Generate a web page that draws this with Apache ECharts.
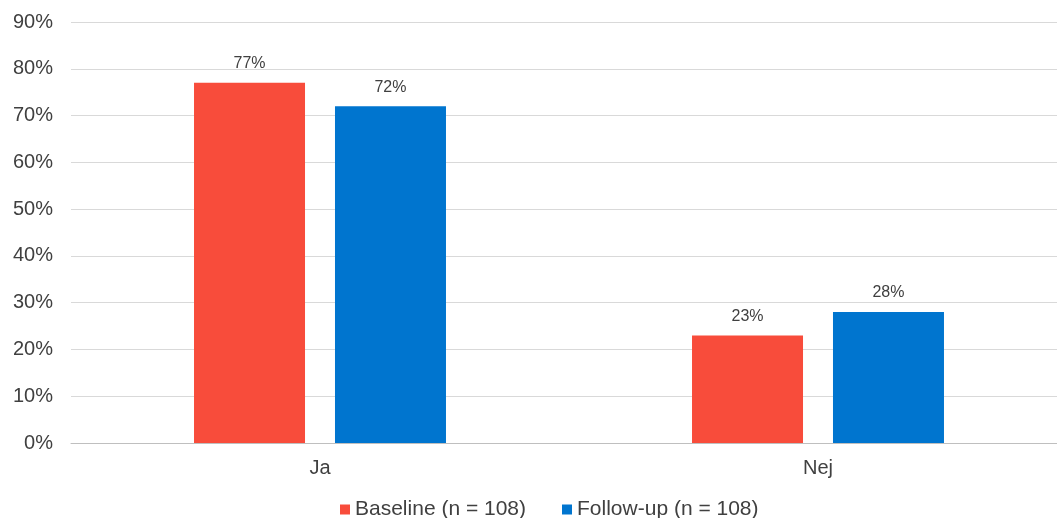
<!DOCTYPE html>
<html><head><meta charset="utf-8">
<script src="https://cdn.jsdelivr.net/npm/echarts@6/dist/echarts.min.js"></script>
<style>html,body{margin:0;padding:0;background:#fff;overflow:hidden;width:1057px;height:518px}#c{width:1067px;height:518px}</style>
</head><body><div id="c"></div>
<script>
const categories = ['Ja', 'Nej'];
const baseline = [77, 23];
const followup = [72, 28];
const seriesNames = ['Baseline (n = 108)', 'Follow-up (n = 108)'];
const yTicks = [0, 10, 20, 30, 40, 50, 60, 70, 80, 90];

const chart = echarts.init(document.getElementById('c'));
const font = 'Liberation Sans, Arial, sans-serif';
const lbl = {show: true, position: 'top', distance: 11, formatter: p => p.value + '%', color: '#404040', fontSize: 16, fontFamily: font};
chart.setOption({
  animation: false,
  grid: {left: 71, right: 0, top: 22, bottom: 75, containLabel: false},
  legend: {
    data: seriesNames, left: 335, top: 494,
    itemWidth: 10, itemHeight: 10, itemGap: 36, icon: 'rect',
    textStyle: {fontSize: 21, color: '#404040', fontFamily: font}
  },
  xAxis: {
    type: 'category', data: categories,
    axisLine: {lineStyle: {color: '#bfbfbf', width: 1}},
    axisTick: {show: false},
    axisLabel: {fontSize: 20, color: '#404040', margin: 15, fontFamily: font}
  },
  yAxis: {
    type: 'value', min: yTicks[0], max: yTicks[yTicks.length - 1], interval: 10,
    axisLine: {show: false}, axisTick: {show: false},
    axisLabel: {formatter: v => v + '%', fontSize: 20, color: '#404040', margin: 18, fontFamily: font},
    splitLine: {lineStyle: {color: '#d9d9d9', width: 1}}
  },
  series: [
    {name: seriesNames[0], type: 'bar', data: baseline, barWidth: 111, barGap: '27%', itemStyle: {color: '#F84C3B'}, label: lbl},
    {name: seriesNames[1], type: 'bar', data: followup, barWidth: 111, itemStyle: {color: '#0075CF'}, label: lbl}
  ]
});
</script></body></html>
